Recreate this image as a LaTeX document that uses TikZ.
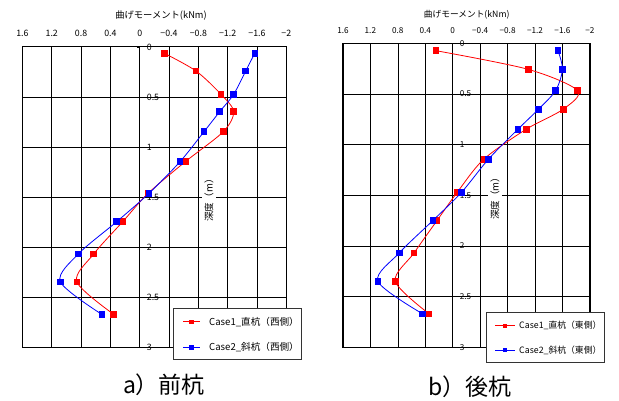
\documentclass[tikz,border=0pt]{standalone}
\usepackage{fontspec}
\setmainfont{Noto Sans CJK JP}
\usetikzlibrary{plotmarks}

\tikzset{
  gridline/.style={black,line width=0.6pt},
  frameline/.style={black,line width=1pt},
  case1/.style={red,line width=0.8pt,mark=square*,mark size=2.8pt,mark options={fill=red}},
  case2/.style={blue,line width=0.8pt,mark=square*,mark size=2.8pt,mark options={fill=blue}},
  ticktext/.style={inner sep=0pt},
  depthtext/.style={rotate=90,fill=white,inner sep=2pt,font=\fontsize{9.6}{9.6}\selectfont},
  legendbox/.style={draw=black!80,fill=white,line width=0.7pt},
  keymark/.style={rectangle,inner sep=0pt,minimum size=4.4pt},
  captiontext/.style={font=\fontsize{23}{23}\selectfont}
}

\newcommand{\momentgrid}[3]{
  \begin{scope}[font=\fontsize{#3}{#3}\selectfont]
  \foreach \v in {1.6,1.2,0.8,0.4,0,-0.4,-0.8,-1.2,-1.6,-2}
    \draw[gridline] (\v,0) -- (\v,3);
  \foreach \d in {0.5,1,1.5,2,2.5}
    \draw[gridline] (1.6,\d) -- (-2,\d);
  \draw[frameline] (1.6,0) rectangle (-2,3);
  \foreach \v/\t [count=\i] in {1.6/1.6,1.2/1.2,0.8/0.8,0.4/0.4,0/0,-0.4/−0.4,-0.8/−0.8,-1.2/−1.2,-1.6/−1.6,-2/−2}
    \node[ticktext,anchor=base,yshift=10pt] (#1-x\i) at (\v,0) {\t};
  \foreach \d [count=\i] in {0,0.5,1,1.5,2,2.5,3} {
    \draw[gridline] (0,\d) -- ++(-3pt,0pt);
    \node[ticktext,anchor=west,xshift=7pt] (#1-d\i) at (0,\d) {\d};
  }
  \node[depthtext] (#1-depth) at (#2,1.51) {深度（m）};
  \end{scope}
}

\begin{document}
\begin{tikzpicture}[x=1pt,y=-1pt]
\useasboundingbox (0,0) rectangle (619,401);

\begin{scope}[shift={(139.7,47)},x=-73.3pt,y=-100pt]
\momentgrid{L}{-0.945}{8.8pt}
\draw[case1] plot[smooth] coordinates {(-0.336,0.063) (-0.768,0.24) (-1.109,0.473) (-1.282,0.647) (-1.14,0.847) (-0.622,1.147) (-0.115,1.463) (0.232,1.747) (0.628,2.07) (0.859,2.347) (0.355,2.673)};
\draw[case2] plot[smooth] coordinates {(-1.569,0.063) (-1.446,0.24) (-1.282,0.473) (-1.091,0.647) (-0.877,0.847) (-0.55,1.147) (-0.127,1.463) (0.314,1.747) (0.838,2.07) (1.083,2.347) (0.518,2.673)};
\end{scope}

\begin{scope}[shift={(452.7,43.3)},x=-68.6pt,y=-101.3pt]
\momentgrid{R}{-0.617}{8.2pt}
\draw[case1] plot[smooth] coordinates {(0.243,0.073) (-1.10,0.257) (-1.82,0.467) (-1.61,0.651) (-1.07,0.849) (-0.452,1.145) (-0.067,1.47) (0.229,1.75) (0.564,2.07) (0.837,2.35) (0.345,2.67)};
\draw[case2] plot[smooth] coordinates {(-1.535,0.073) (-1.60,0.257) (-1.50,0.467) (-1.25,0.651) (-0.95,0.849) (-0.52,1.145) (-0.13,1.47) (0.29,1.75) (0.78,2.07) (1.09,2.35) (0.44,2.67)};
\end{scope}

\node[font=\fontsize{9.3}{9.3}\selectfont] (L-title) at (161,16) {曲げモーメント(kNm)};
\node[font=\fontsize{8.7}{8.7}\selectfont] (R-title) at (466.7,15) {曲げモーメント(kNm)};

\node[legendbox,minimum width=127.7pt,minimum height=51pt] (L-legend) at (237.2,333.8) {};
\coordinate (L-k1a) at (183,321.7);
\coordinate (L-k1b) at (200,321.7);
\coordinate (L-k2a) at (183,347.3);
\coordinate (L-k2b) at (200,347.3);
\draw[red,line width=0.8pt] (L-k1a) -- node[keymark,fill=red] (L-m1) {} (L-k1b);
\draw[blue,line width=0.8pt] (L-k2a) -- node[keymark,fill=blue] (L-m2) {} (L-k2b);
\node[anchor=west,inner sep=0pt,font=\fontsize{9.6}{9.6}\selectfont] (L-t1) at (209,321.7) {Case1\_直杭（西側）};
\node[anchor=west,inner sep=0pt,font=\fontsize{9.6}{9.6}\selectfont] (L-t2) at (209,347.3) {Case2\_斜杭（西側）};

\node[legendbox,minimum width=118.3pt,minimum height=50.4pt] (R-legend) at (545.2,337.5) {};
\coordinate (R-k1a) at (495,325.7);
\coordinate (R-k1b) at (515,325.7);
\coordinate (R-k2a) at (495,350);
\coordinate (R-k2b) at (515,350);
\draw[red,line width=0.8pt] (R-k1a) -- node[keymark,fill=red] (R-m1) {} (R-k1b);
\draw[blue,line width=0.8pt] (R-k2a) -- node[keymark,fill=blue] (R-m2) {} (R-k2b);
\node[anchor=west,inner sep=0pt,font=\fontsize{8.8}{8.8}\selectfont] (R-t1) at (519,325.7) {Case1\_直杭（東側）};
\node[anchor=west,inner sep=0pt,font=\fontsize{8.8}{8.8}\selectfont] (R-t2) at (519,350) {Case2\_斜杭（東側）};

\node[captiontext] (L-caption) at (164,385) {a）前杭};
\node[captiontext] (R-caption) at (470,387) {b）後杭};
\end{tikzpicture}
\end{document}
